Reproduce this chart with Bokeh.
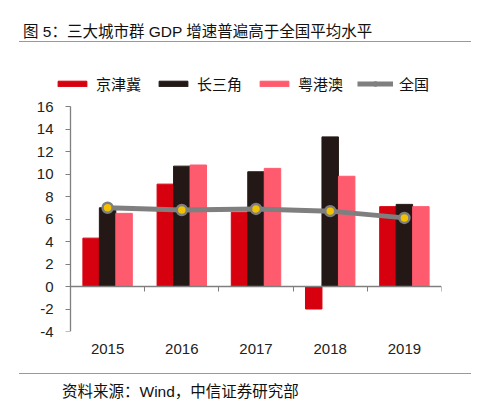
from bokeh.plotting import figure
from bokeh.models import (ColumnDataSource, FixedTicker, LinearAxis, Legend, LegendItem,
                          Div, Range1d)
from bokeh.layouts import column
from bokeh.embed import file_html
from bokeh.resources import INLINE

years = ["2015", "2016", "2017", "2018", "2019"]
jjj = [4.3, 9.1, 6.6, -2.0, 7.1]      # 京津冀
csj = [7.0, 10.7, 10.2, 13.3, 7.3]    # 长三角
ygy = [6.5, 10.8, 10.5, 9.8, 7.1]     # 粤港澳
national = [7.0, 6.8, 6.9, 6.7, 6.1]  # 全国
series_names = ["京津冀", "长三角", "粤港澳", "全国"]
title_text = "图 5：三大城市群 GDP 增速普遍高于全国平均水平"
source_text = "资料来源：Wind，中信证券研究部"
y_ticks = list(range(-4, 17, 2))
y_tick_labels = [str(t) for t in y_ticks]

FONT = "Liberation Sans, Noto Sans CJK SC"
RED = "#d7000f"
BLACK = "#231815"
PINK = "#ff5b6e"
GREY = "#7f7f7f"
YELLOW = "#f2c200"
RULE = "#c98489"

xs = list(range(len(years)))
bw = 0.222
src = ColumnDataSource(dict(
    x=xs,
    x1=[v - bw for v in xs], x2=xs, x3=[v + bw for v in xs],
    jjj=jjj, csj=csj, ygy=ygy, nat=national))

p = figure(width=484, height=329, output_backend="svg", toolbar_location=None,
           x_range=Range1d(-0.6887, len(years) - 0.5), y_range=Range1d(-4, 19.378),
           min_border_left=48, min_border_right=51, min_border_top=26, min_border_bottom=40)
p.outline_line_color = None
p.xgrid.visible = False
p.ygrid.visible = False
p.background_fill_color = None
p.border_fill_color = None

r1 = p.vbar(x="x1", top="jjj", width=bw, color=RED, source=src)
r2 = p.vbar(x="x2", top="csj", width=bw, color=BLACK, source=src)
r3 = p.vbar(x="x3", top="ygy", width=bw, color=PINK, source=src)
rl = p.line(x="x", y="nat", line_color=GREY, line_width=5, source=src)
rm = p.scatter(x="x", y="nat", size=10, fill_color=YELLOW, line_color=GREY, line_width=2.5, source=src)

# year labels axis (no line / ticks)
xa = p.xaxis[0]
xa.ticker = FixedTicker(ticks=xs)
xa.major_label_overrides = {i: y for i, y in enumerate(years)}
xa.axis_line_color = None
xa.major_tick_line_color = None
xa.minor_tick_line_color = None
xa.major_label_standoff = 6
xa.major_label_text_font = FONT
xa.major_label_text_font_size = "15px"
xa.major_label_text_color = "#222222"

# zero axis with boundary ticks
za = LinearAxis(fixed_location=0, ticker=FixedTicker(ticks=[i + 0.5 for i in xs]),
                bounds=(-0.5, len(years) - 0.5))
za.axis_line_color = GREY
za.axis_line_width = 1.3
za.major_tick_line_color = GREY
za.major_tick_out = 5
za.major_tick_in = 0
za.minor_tick_line_color = None
za.major_label_text_font_size = "0px"
za.major_label_text_alpha = 0
p.add_layout(za, "below")

# y labels (normal left axis, no line / ticks)
ya = p.yaxis[0]
ya.bounds = (-4, 16)
ya.ticker = FixedTicker(ticks=y_ticks)
ya.major_label_overrides = {t: s for t, s in zip(y_ticks, y_tick_labels)}
ya.axis_line_color = None
ya.major_tick_line_color = None
ya.minor_tick_line_color = None
ya.major_tick_out = 0
ya.major_tick_in = 0
ya.major_label_standoff = 3
ya.major_label_text_font = FONT
ya.major_label_text_font_size = "15px"
ya.major_label_text_color = "#222222"

# y axis line + ticks at category edge
ya2 = LinearAxis(fixed_location=-0.5, bounds=(-4, 16), ticker=FixedTicker(ticks=y_ticks))
ya2.axis_line_color = GREY
ya2.axis_line_width = 1.3
ya2.major_tick_line_color = GREY
ya2.major_tick_out = 5
ya2.major_tick_in = 0
ya2.minor_tick_line_color = None
ya2.major_label_text_font_size = "0px"
ya2.major_label_text_alpha = 0
p.add_layout(ya2, "left")

legend = Legend(items=[
    LegendItem(label=series_names[0], renderers=[r1]),
    LegendItem(label=series_names[1], renderers=[r2]),
    LegendItem(label=series_names[2], renderers=[r3]),
    LegendItem(label=series_names[3], renderers=[rl, rm]),
], orientation="horizontal", location=(-2, 237), padding=0, margin=0,
    spacing=14, label_standoff=6, glyph_width=36, glyph_height=7, label_height=20,
    border_line_color=None, background_fill_color=None, background_fill_alpha=0,
    label_text_font=FONT, label_text_font_size="15px", label_text_color="#111111")
p.add_layout(legend, "center")

title_div = Div(text=title_text, width=452, height=34, margin=(0, 0, 0, 11),
                styles={"font-family": FONT, "font-size": "15.5px", "color": "#111",
                        "border-bottom": f"1.6px solid {RULE}", "padding-left": "4px",
                        "padding-top": "15px", "box-sizing": "border-box",
                        "line-height": "18px", "width": "452px"})
src_div = Div(text=source_text, width=452, height=30, margin=(2, 0, 0, 11),
              styles={"font-family": FONT, "font-size": "15.5px", "color": "#111",
                      "border-top": f"1.6px solid {RULE}", "padding-left": "43px",
                      "padding-top": "9px", "box-sizing": "border-box",
                      "line-height": "18px", "width": "452px"})

layout = column(title_div, p, src_div, spacing=0, margin=(8, 0, 0, 8))
open("out.html", "w").write(file_html(layout, INLINE))
